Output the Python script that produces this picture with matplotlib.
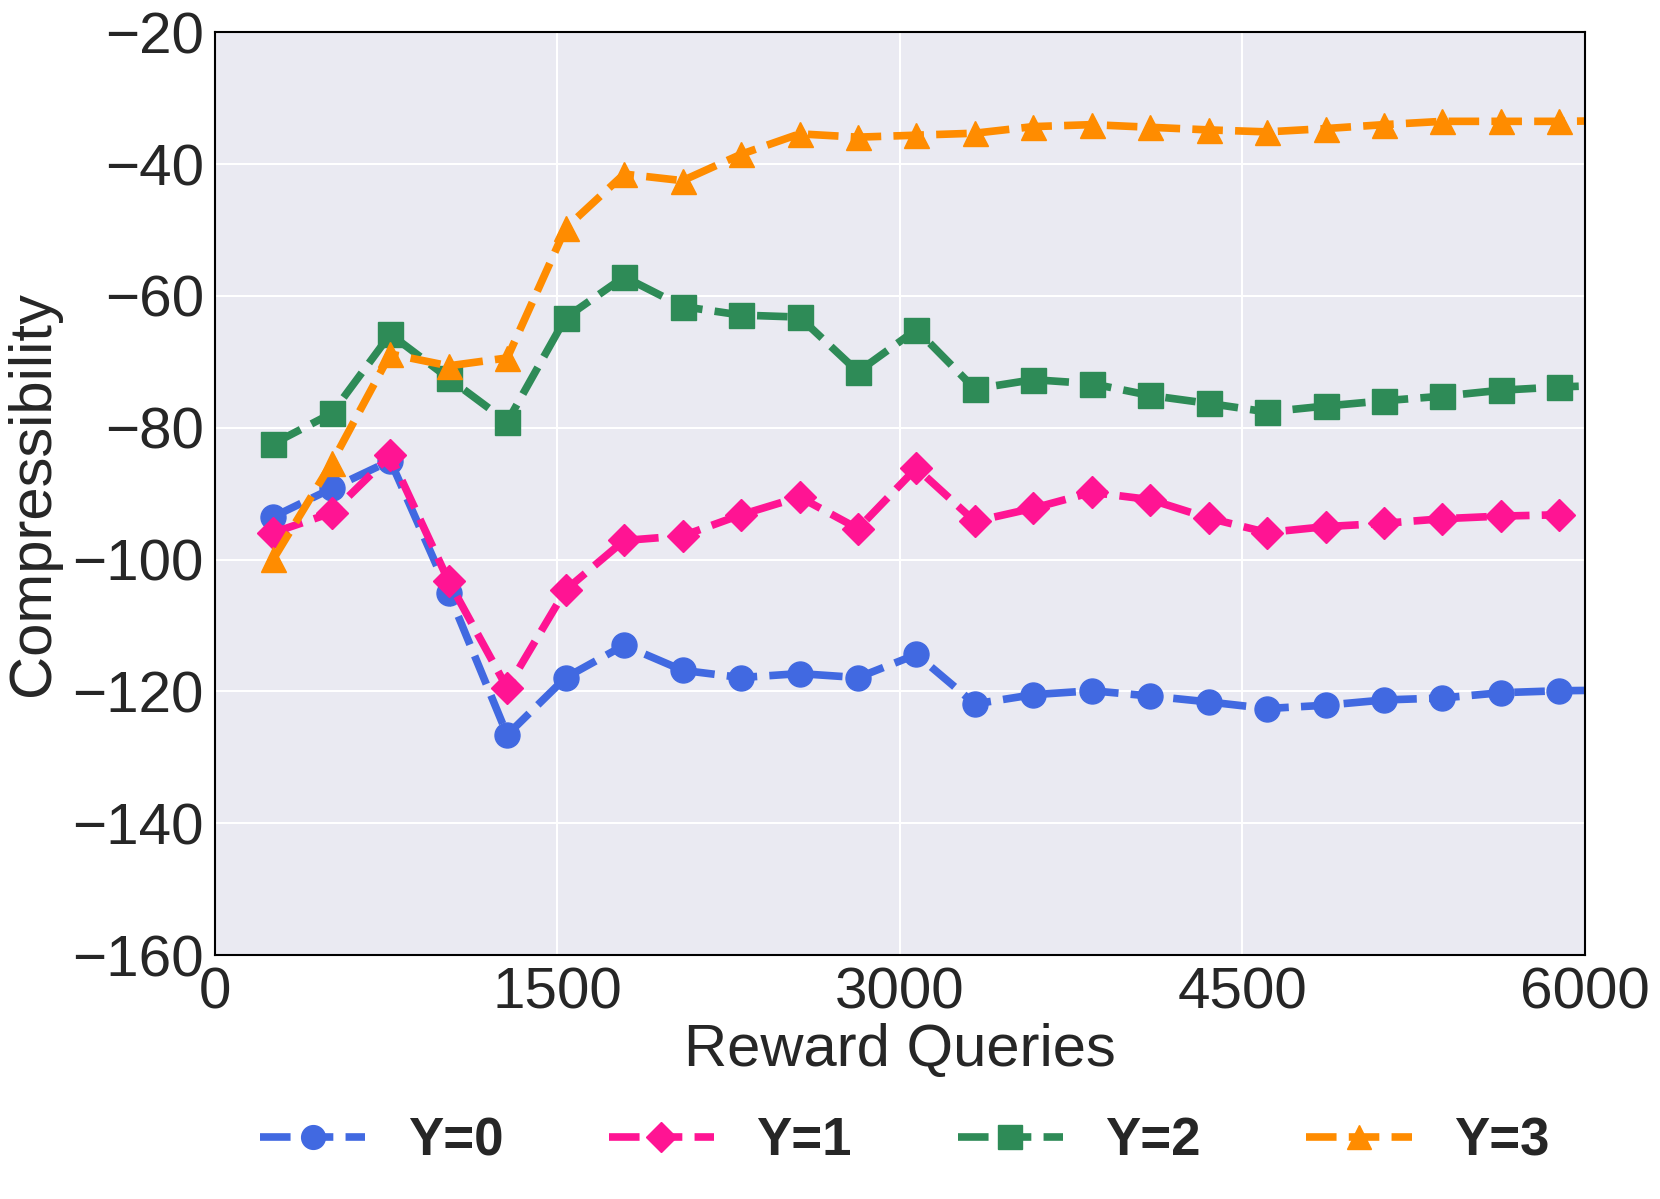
import matplotlib
matplotlib.use("Agg")
import matplotlib.pyplot as plt
import seaborn as sns

sns.set_style("darkgrid")
plt.rcParams['font.family'] = ['Liberation Sans', 'DejaVu Sans']

queries = [256 * k for k in range(1, 25)]
y0 = [-93.5, -89.2, -85.0, -105.1, -126.6, -117.9, -113.0, -116.8, -117.9, -117.3, -117.9, -114.4,
      -121.9, -120.5, -119.9, -120.7, -121.6, -122.6, -122.1, -121.3, -121.0, -120.2, -119.9, -119.8]
y1 = [-95.9, -92.9, -84.2, -103.3, -119.5, -104.6, -97.1, -96.4, -93.2, -90.5, -95.3, -86.1,
      -94.2, -92.2, -89.8, -90.9, -93.7, -95.9, -95.0, -94.5, -93.8, -93.4, -93.2, -93.1]
y2 = [-82.4, -77.8, -65.8, -72.5, -79.1, -63.3, -57.1, -61.6, -62.9, -63.2, -71.5, -65.1,
      -74.1, -72.7, -73.3, -75.1, -76.3, -77.6, -76.7, -75.9, -75.2, -74.3, -73.8, -73.5]
y3 = [-99.9, -85.3, -68.8, -70.6, -69.4, -49.7, -41.5, -42.5, -38.5, -35.4, -35.9, -35.6,
      -35.3, -34.3, -34.0, -34.4, -34.8, -35.1, -34.6, -34.0, -33.5, -33.5, -33.5, -33.4]
labels = ["Y=0", "Y=1", "Y=2", "Y=3"]
colors = ["#4169E1", "#FF1493", "#2E8B57", "#FF8C00"]
markers = ["o", "D", "s", "^"]
xticks = [0, 1500, 3000, 4500, 6000]
yticks = [-160, -140, -120, -100, -80, -60, -40, -20]

fig = plt.figure(figsize=(16.6, 11.99), dpi=100)
ax = fig.add_axes([0.1295, 0.2035, 0.8253, 0.7695])
ax.set_facecolor("#EAEAF2")

for ys, lab, c, m in zip([y0, y1, y2, y3], labels, colors, markers):
    ms = 16 if m == "D" else 18
    ax.plot(queries, ys, linestyle="--", linewidth=5.5, color=c, marker=m,
            markersize=ms, label=lab, dashes=(4, 1.6))

ax.set_xlim(0, 6000)
ax.set_ylim(-160, -20)
ax.set_xticks(xticks)
ax.set_yticks(yticks)
ax.set_yticklabels([f"\u2212{abs(v)}" for v in yticks])
ax.tick_params(labelsize=42, length=0, pad=8)
ax.grid(True, color="white", linewidth=1.5)
for s in ax.spines.values():
    s.set_visible(True)
    s.set_color("black")
    s.set_linewidth(1.5)
ax.set_xlabel("Reward Queries", fontsize=43, labelpad=2)
ax.set_ylabel("Compressibility", fontsize=43, labelpad=8)

leg = fig.legend(loc="center", bbox_to_anchor=(0.545, 0.048), ncol=4, frameon=False,
                 prop={'size': 38, 'weight': 'bold'}, markerscale=0.95,
                 handlelength=2.0, columnspacing=2.0, handletextpad=0.8)

fig.savefig("out.png", dpi=100)
